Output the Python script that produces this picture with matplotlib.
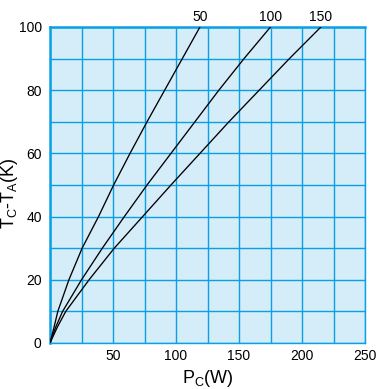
import numpy as np
from matplotlib import pyplot as plt

# temperature rise (y) vs power (x) for three heat sink sizes
temp_rise = [0, 5, 10, 20, 30, 40, 50, 60, 70, 80, 90, 100]
power_50 = [0, 3.2, 6.2, 15, 25.5, 38.5, 50.5, 63.5, 77, 91, 105, 119]
power_100 = [0, 4.5, 10, 25, 41.5, 59, 77, 96, 115, 134, 154, 175]
power_150 = [0, 5.8, 12.5, 31, 51, 73.5, 96, 119, 142, 166, 190, 215]
curve_names = ['50', '100', '150']

xticks = [50, 100, 150, 200, 250]
yticks = [0, 20, 40, 60, 80, 100]

blue = '#0aa0e6'
plt.rcParams['font.family'] = ['Liberation Sans', 'DejaVu Sans']

fig = plt.figure(figsize=(3.88, 3.89), dpi=100)
ax = fig.add_axes([50 / 388, 46 / 389, 315 / 388, 316 / 389])
ax.set_facecolor('#d5ecf9')

for name, xs in zip(curve_names, [power_50, power_100, power_150]):
    ax.plot(xs, temp_rise, color='black', lw=0.95, zorder=3)
    ax.text(xs[-1], 101, name, ha='center', va='bottom', fontsize=10)

ax.set_xlim(0, 250)
ax.set_ylim(0, 100)
ax.set_xticks(np.arange(0, 251, 25), minor=True)
ax.set_yticks(np.arange(0, 101, 10), minor=True)
ax.set_xticks(xticks)
ax.set_yticks(yticks)
ax.grid(which='both', color=blue, lw=1.0, zorder=1)
ax.set_axisbelow(True)
ax.tick_params(which='both', length=0, labelsize=10)
ax.tick_params(axis='x', pad=4)
ax.tick_params(axis='y', pad=6)

for side in ['left', 'top']:
    ax.spines[side].set_color(blue)
    ax.spines[side].set_linewidth(1.8)
for side in ['bottom', 'right']:
    ax.spines[side].set_color(blue)
    ax.spines[side].set_linewidth(1.0)

ax.set_xlabel(r'$\mathregular{P_C}$(W)', fontsize=13, labelpad=4)
ax.set_ylabel(r'$\mathregular{T_C}$-$\mathregular{T_A}$(K)', fontsize=13)
ax.yaxis.set_label_coords(-0.095, 0.475)

plt.savefig('out.png', dpi=100)
